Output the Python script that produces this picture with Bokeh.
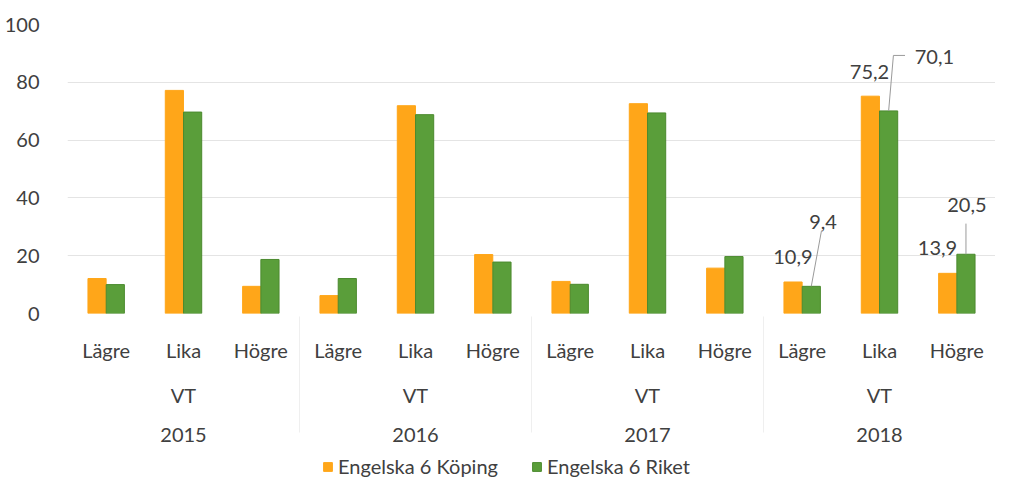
from bokeh.plotting import figure
from bokeh.layouts import column
from bokeh.models import FactorRange, ColumnDataSource, Legend, LegendItem, Range1d
from bokeh.transform import dodge
from bokeh.embed import file_html
from bokeh.resources import INLINE
from bokeh.core.properties import value

# ---- data ----
years = ["2015", "2016", "2017", "2018"]
term = "VT"
levels = ["Lägre", "Lika", "Högre"]
koping = [12.1, 77.2, 9.4, 6.2, 71.9, 20.4, 11.1, 72.6, 15.7, 10.9, 75.2, 13.9]
riket = [10.0, 69.7, 18.7, 12.1, 68.8, 17.8, 10.1, 69.4, 19.7, 9.4, 70.1, 20.5]
series_names = ["Engelska 6 Köping", "Engelska 6 Riket"]
y_ticks = [0, 20, 40, 60, 80, 100]
labelled_year = "2018"

# ---- styles ----
ORANGE = "#FFA619"
GREEN = "#5A9E3A"
GREEN_EDGE = "#4B8A2E"
TEXT = "#404040"
FONT = "Lato"
FS = "20px"

factors = [(y, term, l) for y in years for l in levels]
src = ColumnDataSource(dict(x=factors, koping=koping, riket=riket))

p = figure(frame_width=928, frame_height=289,
           x_range=FactorRange(*factors, group_padding=0, subgroup_padding=0, range_padding=0),
           y_range=Range1d(0, 100), output_backend="svg", toolbar_location=None,
           min_border_left=67, min_border_right=0, min_border_top=24, min_border_bottom=0)

p.vbar(x=dodge("x", -0.118, range=p.x_range), top="koping", width=0.235, source=src,
       fill_color=ORANGE, line_color=ORANGE)
p.vbar(x=dodge("x", 0.118, range=p.x_range), top="riket", width=0.235, source=src,
       fill_color=GREEN, line_color=GREEN_EDGE)

# data labels for the last year
idx = [i for i, f in enumerate(factors) if f[0] == labelled_year]
fmt = lambda v: f"{v:.1f}".replace(".", ",")
o_dx = [-0.12, -0.13, -0.25]
o_dy = [8.5, 8.5, 8.6]
g_dx = [0.27, 0.71, 0.13]
g_dy = [22.4, 18.8, 16.9]
lx, ly, lt = [], [], []
for k, i in enumerate(idx):
    f = factors[i]
    lx.append(list(f) + [o_dx[k]]); ly.append(koping[i] + o_dy[k]); lt.append(fmt(koping[i]))
    lx.append(list(f) + [g_dx[k]]); ly.append(riket[i] + g_dy[k]); lt.append(fmt(riket[i]))
p.text(x="x", y="y", text="t", source=ColumnDataSource(dict(x=lx, y=ly, t=lt)),
       text_font=value(FONT), text_font_size=FS, text_color=TEXT,
       text_align="center", text_baseline="middle")

# leader lines for green labels
leaders = [
    [(0.118, 0.0), (0.25, 19.3)],
    [(0.118, 0.0), (0.18, 19.2), (0.33, 19.2)],
    [(0.118, 0.0), (0.118, 10.6)],
]
for k, i in enumerate(idx):
    f = factors[i]
    xs = [list(f) + [dx] for dx, dy in leaders[k]]
    ys = [riket[i] + dy for dx, dy in leaders[k]]
    p.line(xs, ys, line_color="#9a9a9a", line_width=1)

# axes & grid
p.yaxis.ticker = y_ticks
p.yaxis.axis_line_color = None
p.yaxis.major_tick_line_color = None
p.yaxis.minor_tick_line_color = None
p.yaxis.major_label_text_font = FONT
p.yaxis.major_label_text_font_size = FS
p.yaxis.major_label_text_color = TEXT
p.yaxis.major_label_standoff = 22

p.xaxis.axis_line_color = None
p.xaxis.major_tick_line_color = None
p.xaxis.major_label_standoff = 18
for pre in ["major_label", "subgroup", "group"]:
    setattr(p.xaxis[0], f"{pre}_text_font", FONT)
    setattr(p.xaxis[0], f"{pre}_text_font_size", FS)
    setattr(p.xaxis[0], f"{pre}_text_color", TEXT)
p.xaxis.subgroup_text_font_style = "normal"
p.xaxis.group_text_font_style = "normal"
p.xaxis.separator_line_color = "#efefef"
p.xaxis.separator_line_width = 1

p.xgrid.visible = False
p.ygrid.grid_line_color = "#e4e4e4"
p.ygrid.grid_line_width = 1
p.outline_line_color = None

# ---- legend strip (proxy renderers kept outside the visible range) ----
lg = figure(width=995, height=40, x_range=Range1d(0, 1), y_range=Range1d(0, 1),
            output_backend="svg", toolbar_location=None,
            x_axis_location=None, y_axis_location=None,
            min_border_left=0, min_border_right=0, min_border_top=0, min_border_bottom=0)
lg.xgrid.visible = False
lg.ygrid.visible = False
lg.outline_line_color = None
d1 = lg.vbar(x=[-1.0], top=[-1.0], width=0.1, fill_color=ORANGE, line_color=ORANGE)
d2 = lg.vbar(x=[-1.0], top=[-1.0], width=0.1, fill_color=GREEN, line_color=GREEN_EDGE)
legend = Legend(items=[LegendItem(label=series_names[0], renderers=[d1]),
                       LegendItem(label=series_names[1], renderers=[d2])],
                orientation="horizontal", location=(255, 6),
                label_text_font=FONT, label_text_font_size=FS, label_text_color=TEXT,
                glyph_width=11, glyph_height=11, spacing=33, border_line_color=None,
                background_fill_alpha=0, margin=0, padding=0, label_standoff=5)
lg.add_layout(legend)

open("out.html", "w").write(file_html(column(p, lg, spacing=0), INLINE))
